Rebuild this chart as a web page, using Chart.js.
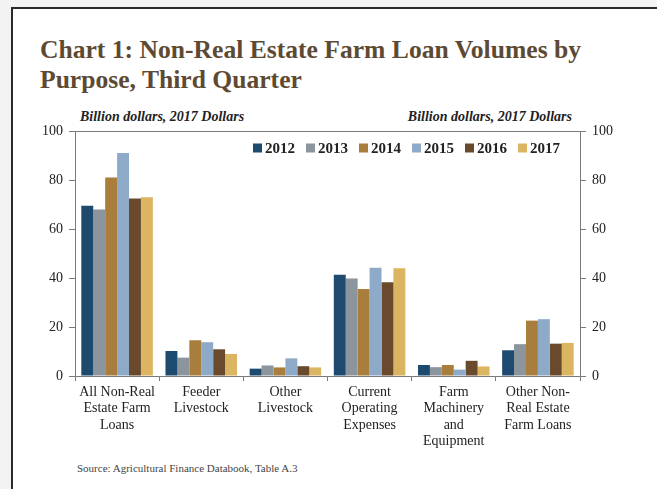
<!DOCTYPE html>
<html>
<head>
<meta charset="utf-8">
<script src="https://cdn.jsdelivr.net/npm/chart.js@4/dist/chart.umd.min.js"></script>
<style>
  html, body { margin: 0; padding: 0; }
  body { width: 657px; height: 489px; background: #f3f3f3; position: relative; overflow: hidden; font-family: "Liberation Serif", serif; }
  #frame { position: absolute; left: 11px; top: 7px; width: 700px; height: 520px; background: #fff; border-left: 2px solid #2a2a2a; border-top: 2px solid #2a2a2a; }
  #title { position: absolute; left: 40px; top: 35px; font-size: 25.6px; font-weight: bold; color: #5e4a33; line-height: 30px; }
  .unit { position: absolute; top: 109px; font-size: 14px; font-style: italic; font-weight: bold; color: #222; }
  #source { position: absolute; left: 77px; top: 462px; font-size: 11px; color: #444; }
  #wrap { position: absolute; left: 0; top: 0; width: 657px; height: 489px; }
</style>
</head>
<body>
<div id="frame"></div>
<div id="title">Chart 1: Non-Real Estate Farm Loan Volumes by<br>Purpose, Third Quarter</div>
<div class="unit" style="left:80px">Billion dollars, 2017 Dollars</div>
<div class="unit" style="right:85px">Billion dollars, 2017 Dollars</div>
<div id="source">Source: Agricultural Finance Databook, Table A.3</div>
<div id="wrap"><canvas id="chart"></canvas></div>
<script>
// categories and values
const categories = [
    ['All Non-Real', 'Estate Farm', 'Loans'],
    ['Feeder', 'Livestock'],
    ['Other', 'Livestock'],
    ['Current', 'Operating', 'Expenses'],
    ['Farm', 'Machinery', 'and', 'Equipment'],
    ['Other Non-', 'Real Estate', 'Farm Loans']
];
const years = ['2012', '2013', '2014', '2015', '2016', '2017'];
const v2012 = [69.5, 10.2, 3.0, 41.3, 4.5, 10.5];
const v2013 = [68.0, 7.5, 4.3, 39.8, 3.6, 13.0];
const v2014 = [81.0, 14.6, 3.5, 35.5, 4.5, 22.6];
const v2015 = [91.0, 13.8, 7.2, 44.2, 2.6, 23.2];
const v2016 = [72.5, 10.9, 4.0, 38.3, 6.2, 13.2];
const v2017 = [73.0, 9.0, 3.5, 44.0, 3.9, 13.5];
const yTicks = [0, 20, 40, 60, 80, 100];

const colors = ['#1e4a6f', '#8c949d', '#a97d3c', '#8eaac9', '#6a4a2c', '#dbb561'];
const series = [v2012, v2013, v2014, v2015, v2016, v2017];
const serif = '"Liberation Serif", serif';

// top line of the plot box + a one-row legend inside the plot
const boxPlugin = {
    id: 'box',
    afterDraw(chart) {
        const a = chart.chartArea;
        const c = chart.ctx;
        c.save();
        c.strokeStyle = '#7a7a7a';
        c.lineWidth = 1;
        c.beginPath();
        c.moveTo(a.left, a.top + 0.5);
        c.lineTo(a.right, a.top + 0.5);
        c.stroke();

        // legend, right aligned
        c.font = 'bold 15px ' + serif;
        c.textBaseline = 'middle';
        const box = 9, gap = 3, space = 11;
        const items = chart.data.datasets.map(d => ({ label: d.label, color: d.backgroundColor, w: box + gap + c.measureText(d.label).width }));
        let total = items.reduce((s, it) => s + it.w, 0) + space * (items.length - 1);
        let x = a.right - 20 - total;
        const y = a.top + 17;
        items.forEach(it => {
            c.fillStyle = it.color;
            c.fillRect(x, y - box / 2, box, box);
            c.fillStyle = '#222';
            c.fillText(it.label, x + box + gap, y + 1);
            x += it.w + space;
        });
        c.restore();
    }
};

const yScale = (pos) => ({
    position: pos,
    min: 0,
    max: 100,
    afterBuildTicks: s => { s.ticks = yTicks.map(v => ({ value: v })); },
    afterFit: s => { s.width = pos === 'left' ? 75 : 77; },
    grid: { drawOnChartArea: false, drawTicks: true, tickLength: 6, color: '#7a7a7a' },
    border: { display: true, color: '#7a7a7a', width: 1 },
    ticks: { color: '#222', font: { family: serif, size: 14 }, padding: 6 }
});

new Chart(document.getElementById('chart'), {
    type: 'bar',
    data: {
        labels: categories,
        datasets: years.map((y, i) => ({
            label: y,
            data: series[i],
            backgroundColor: colors[i],
            categoryPercentage: 0.85,
            barPercentage: 1.0
        }))
    },
    options: {
        responsive: true,
        maintainAspectRatio: false,
        animation: false,
        layout: { padding: { top: 131, left: 0, right: 0, bottom: 0 } },
        plugins: {
            legend: { display: false },
            tooltip: { enabled: false }
        },
        scales: {
            x: {
                afterFit: s => { s.height = 113; },
                grid: { offset: true, drawOnChartArea: false, drawTicks: true, tickLength: 5, color: '#7a7a7a' },
                border: { display: true, color: '#7a7a7a' },
                ticks: { color: '#222', font: { family: serif, size: 14, lineHeight: 1.18 }, maxRotation: 0, autoSkip: false, padding: 3 }
            },
            y: yScale('left'),
            y2: yScale('right')
        }
    },
    plugins: [boxPlugin]
});
</script>
</body>
</html>
